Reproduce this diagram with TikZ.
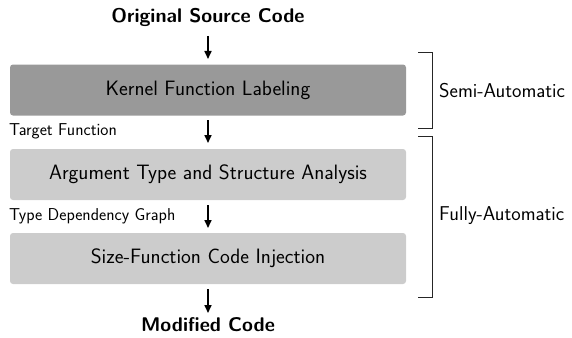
\documentclass[tikz,border=0pt]{standalone}
\usetikzlibrary{arrows.meta}
\begin{document}
\begin{tikzpicture}[x=1pt,y=-1pt,
  stagebox/.style={rounded corners=3pt, minimum width=396pt, minimum height=51pt, inner sep=0pt, font=\sffamily\fontsize{20.8}{24}\selectfont},
  flow/.style={line width=1.6pt, -{Stealth[length=8pt,width=7pt,inset=0pt]}},
  small/.style={font=\sffamily\fontsize{17.2}{20}\selectfont, inner sep=0pt, anchor=west},
  endtxt/.style={font=\sffamily\bfseries\fontsize{19.8}{23}\selectfont, inner sep=0pt},
  side/.style={font=\sffamily\fontsize{20}{24}\selectfont, inner sep=0pt, anchor=west},
  brk/.style={line width=0.8pt, draw=black!85}]
\useasboundingbox (0,0) rectangle (572,337);
\node[endtxt] (src) at (208,17) {Original Source Code};
\node[stagebox, fill=black!40] (k) at (208,90) {Kernel Function Labeling};
\node[stagebox, fill=black!20] (a) at (208,174.5) {Argument Type and Structure Analysis};
\node[stagebox, fill=black!20] (s) at (208,258.5) {Size-Function Code Injection};
\node[endtxt] (mod) at (208,325) {Modified Code};
\node[small] (tf) at (9,131) {Target Function};
\node[small] (tdg) at (9,216) {Type Dependency Graph};
\coordinate (a1s) at (208,36); \coordinate (a1e) at (208,59);
\coordinate (a2s) at (208,120); \coordinate (a2e) at (208,143);
\coordinate (a3s) at (208,205); \coordinate (a3e) at (208,228);
\coordinate (a4s) at (208,289); \coordinate (a4e) at (208,313);
\draw[flow] (a1s) -- (a1e);
\draw[flow] (a2s) -- (a2e);
\draw[flow] (a3s) -- (a3e);
\draw[flow] (a4s) -- (a4e);
\draw[brk] (418,52) -- (432,52) -- (432,128) -- (418,128);
\draw[brk] (418,136) -- (432,136) -- (432,297) -- (418,297);
\node[side] (semi) at (439,91) {Semi-Automatic};
\node[side] (fully) at (439,216) {Fully-Automatic};
\end{tikzpicture}
\end{document}
